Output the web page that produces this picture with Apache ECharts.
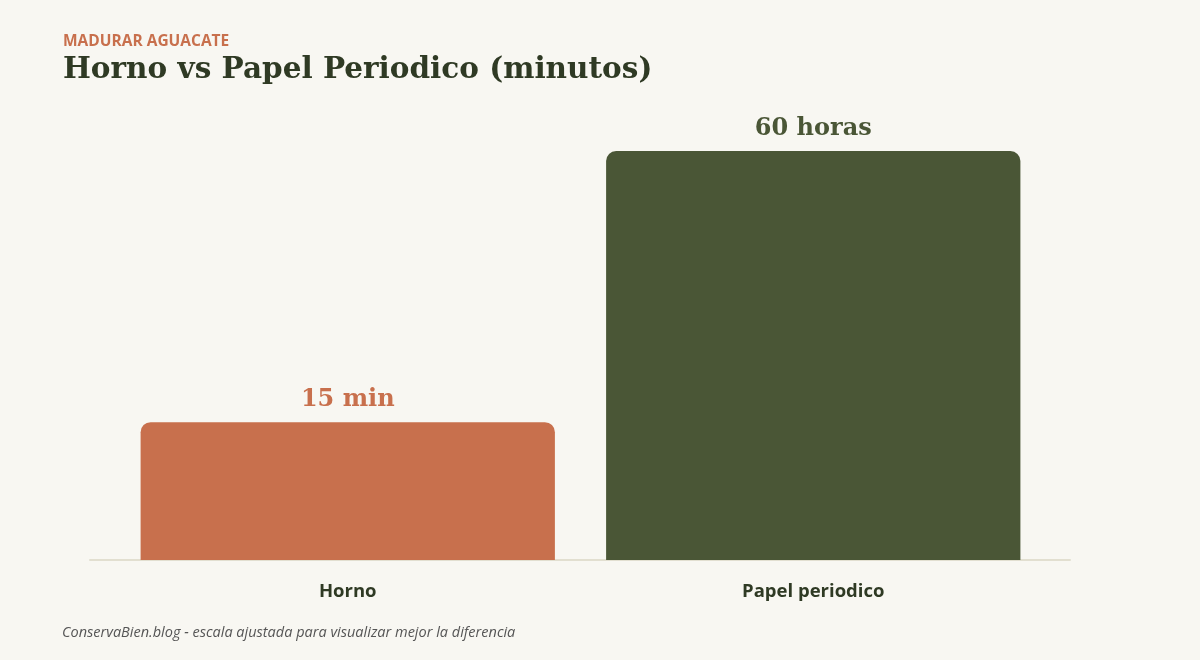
<!DOCTYPE html>
<html>
<head>
<meta charset="utf-8">
<script src="https://cdn.jsdelivr.net/npm/echarts@6/dist/echarts.min.js"></script>
<style>
html,body{margin:0;padding:0;background:#f8f7f2;}
#chart{width:1200px;height:660px;}
</style>
</head>
<body>
<div id="chart"></div>
<script>
// Categories and values
const categories = ["Horno", "Papel periodico"];
// Real times in minutes (15 min vs 60 horas)
const minutes = [15, 3600];
// Adjusted-scale values as drawn in the reference (escala ajustada)
const adjustedValues = [15, 44.5];
const valueLabels = ["15 min", "60 horas"];
const barColors = ["#c8704d", "#4a5636"];

const kicker = "MADURAR AGUACATE";
const titleText = "Horno vs Papel Periodico (minutos)";
const footer = "ConservaBien.blog - escala ajustada para visualizar mejor la diferencia";

const chart = echarts.init(document.getElementById('chart'));
chart.setOption({
  backgroundColor: '#f8f7f2',
  animation: false,
  title: [
    { text: kicker, left: 58, top: 29,
      textStyle: { fontFamily: 'Open Sans', fontWeight: 'bold', fontSize: 15.5, color: '#c8704d' } },
    { text: titleText, left: 58, top: 50,
      textStyle: { fontFamily: 'DejaVu Serif', fontWeight: 'bold', fontSize: 29.5, color: '#2f3a24' } },
    { text: footer, left: 57, top: 620,
      textStyle: { fontFamily: 'Open Sans', fontStyle: 'italic', fontWeight: 'normal', fontSize: 14.5, color: '#555555' } }
  ],
  grid: [
    { left: 115, right: 154, top: 151, bottom: 100 },
    { left: 90, right: 130, top: 151, bottom: 100 }
  ],
  xAxis: [{
    type: 'category',
    gridIndex: 0,
    data: categories,
    axisLine: { show: false },
    axisTick: { show: false },
    axisLabel: { margin: 22, fontFamily: 'Open Sans', fontWeight: 'bold', fontSize: 18.5, color: '#2f3a24' }
  }, {
    type: 'category',
    gridIndex: 1,
    data: categories,
    axisLine: { lineStyle: { color: '#e2dfd0', width: 2 } },
    axisTick: { show: false },
    axisLabel: { show: false }
  }],
  yAxis: [{
    type: 'value', gridIndex: 0, min: 0, max: 'dataMax',
    show: false, splitLine: { show: false }
  }, {
    type: 'value', gridIndex: 1, min: 0, max: 1,
    show: false, splitLine: { show: false }
  }],
  series: [{
    type: 'bar',
    xAxisIndex: 0, yAxisIndex: 0,
    z: 3,
    barCategoryGap: '11%',
    data: adjustedValues.map((v, i) => ({
      value: v,
      itemStyle: { color: barColors[i], borderRadius: [10, 10, 0, 0] },
      label: { color: barColors[i] }
    })),
    label: {
      show: true, position: 'top', distance: 10,
      fontFamily: 'DejaVu Serif', fontWeight: 'bold', fontSize: 24,
      formatter: p => valueLabels[p.dataIndex]
    }
  }]
});
</script>
</body>
</html>
